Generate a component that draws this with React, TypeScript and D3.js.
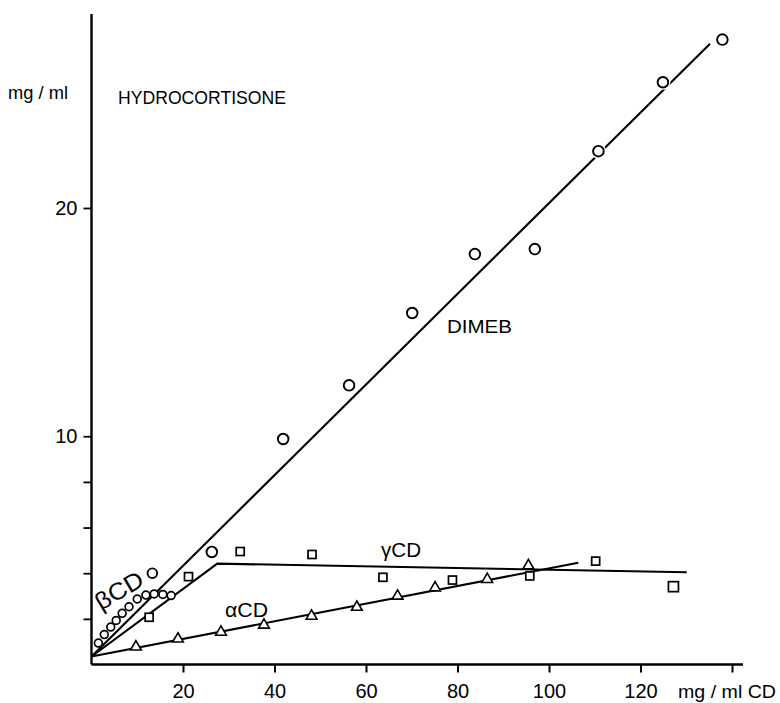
import React, { useEffect, useRef } from 'react'
import * as d3 from 'd3'

const W = 780
const H = 703

// DIMEB - open circles (mg/ml CD, mg/ml hydrocortisone)
const dimebX = [13.3, 26.3, 41.9, 56.3, 70.1, 83.8, 96.9, 110.8, 124.9, 137.9]
const dimebY = [4.0, 4.93, 9.88, 12.23, 15.4, 17.98, 18.2, 22.49, 25.51, 27.38]
// betaCD - small circles
const betaX = [1.5, 2.8, 4.2, 5.4, 6.7, 8.2, 10.0, 11.9, 13.7, 15.6, 17.4]
const betaY = [0.94, 1.31, 1.64, 1.93, 2.24, 2.53, 2.87, 3.04, 3.09, 3.07, 3.02]
// gammaCD - squares
const gammaX = [12.6, 21.2, 32.5, 48.2, 63.7, 78.9, 95.8, 110.2, 127.2]
const gammaY = [2.07, 3.85, 4.95, 4.82, 3.82, 3.7, 3.88, 4.53, 3.41]
// alphaCD - triangles
const alphaX = [9.7, 18.9, 28.3, 37.7, 48.1, 58.0, 66.9, 75.1, 86.5, 95.5]
const alphaY = [0.77, 1.12, 1.42, 1.73, 2.12, 2.51, 3.0, 3.36, 3.73, 4.33]

// drawn fit lines
const dimebFit: [number, number][] = [[0, 0.35], [135.2, 27.2]]
const gammaFit: [number, number][] = [[0, 0.35], [27.5, 4.42], [130.1, 4.04]]
const alphaFit: [number, number][] = [[0, 0.35], [106.4, 4.46]]

const xTicks = [20, 40, 60, 80, 100, 120, 140]
const xTickLabels = ['20', '40', '60', '80', '100', '120', '']
const yTicks = [2, 4, 6, 8, 10, 20]
const yTickLabels = ['', '', '', '', '10', '20']

const FONT = '"Liberation Sans", Arial, sans-serif'

export default function App() {
  const svgRef = useRef<SVGSVGElement>(null)

  useEffect(() => {
    const svg = d3.select(svgRef.current)
    svg.selectAll('*').remove()

    const x = d3.scaleLinear().domain([0, 140]).range([91.5, 732])
    const y = d3.scaleLinear().domain([0, 20]).range([664.5, 208])

    svg.append('rect').attr('width', W).attr('height', H).attr('fill', 'white')

    // axes
    const xAxis = d3.axisBottom(x)
      .tickValues(xTicks)
      .tickFormat((d, i) => xTickLabels[i])
      .tickSize(8)
      .tickSizeOuter(0)
      .tickPadding(11)
    const gx = svg.append('g').attr('transform', `translate(0,${y(0)})`).call(xAxis)
    gx.select('.domain').remove()
    gx.selectAll('line').attr('stroke', '#000').attr('stroke-width', 2)
    gx.selectAll('text').attr('font-family', FONT).attr('font-size', 20).attr('fill', '#000')

    const yAxis = d3.axisLeft(y)
      .tickValues(yTicks)
      .tickFormat((d, i) => yTickLabels[i])
      .tickSize(8)
      .tickSizeOuter(0)
      .tickPadding(6)
    const gy = svg.append('g').attr('transform', `translate(${x(0)},0)`).call(yAxis)
    gy.select('.domain').remove()
    gy.selectAll('line').attr('stroke', '#000').attr('stroke-width', 1.8)
    gy.selectAll('text').attr('font-family', FONT).attr('font-size', 20).attr('fill', '#000')

    svg.append('line')
      .attr('x1', x(0)).attr('x2', x(142.4))
      .attr('y1', y(0)).attr('y2', y(0))
      .attr('stroke', '#000').attr('stroke-width', 2.4)
    svg.append('line')
      .attr('x1', x(0)).attr('x2', x(0))
      .attr('y1', y(0)).attr('y2', y(28.5))
      .attr('stroke', '#000').attr('stroke-width', 2.4)

    // fit lines
    const line = d3.line<[number, number]>().x(d => x(d[0])).y(d => y(d[1]))
    ;[dimebFit, gammaFit, alphaFit].forEach(f => {
      svg.append('path')
        .attr('d', line(f))
        .attr('fill', 'none')
        .attr('stroke', '#000')
        .attr('stroke-width', 2.1)
    })

    // DIMEB circles with a white gap around them
    const dimeb = dimebX.map((v, i) => [v, dimebY[i]])
    svg.selectAll('circle.gap')
      .data(dimeb)
      .enter()
      .append('circle')
      .attr('class', 'gap')
      .attr('cx', d => x(d[0]))
      .attr('cy', d => y(d[1]))
      .attr('r', 7.5)
      .attr('fill', 'white')
    svg.selectAll('circle.dimeb')
      .data(dimeb)
      .enter()
      .append('circle')
      .attr('class', 'dimeb')
      .attr('cx', d => x(d[0]))
      .attr('cy', d => y(d[1]))
      .attr('r', (d, i) => (i === 0 ? 4.8 : 5.3))
      .attr('fill', 'white')
      .attr('stroke', '#000')
      .attr('stroke-width', 1.9)

    // betaCD circles
    svg.selectAll('circle.beta')
      .data(betaX.map((v, i) => [v, betaY[i]]))
      .enter()
      .append('circle')
      .attr('class', 'beta')
      .attr('cx', d => x(d[0]))
      .attr('cy', d => y(d[1]))
      .attr('r', 3.9)
      .attr('fill', 'white')
      .attr('stroke', '#000')
      .attr('stroke-width', 1.7)

    // gammaCD squares
    svg.selectAll('rect.gamma')
      .data(gammaX.map((v, i) => [v, gammaY[i]]))
      .enter()
      .append('rect')
      .attr('class', 'gamma')
      .attr('x', (d, i) => x(d[0]) - (i === 8 ? 5 : 4))
      .attr('y', (d, i) => y(d[1]) - (i === 8 ? 5 : 4))
      .attr('width', (d, i) => (i === 8 ? 10 : 8))
      .attr('height', (d, i) => (i === 8 ? 10 : 8))
      .attr('fill', 'white')
      .attr('stroke', '#000')
      .attr('stroke-width', 1.7)

    // alphaCD triangles
    const tri = d3.symbol().type(d3.symbolTriangle).size(50)
    svg.selectAll('path.alpha')
      .data(alphaX.map((v, i) => [v, alphaY[i]]))
      .enter()
      .append('path')
      .attr('class', 'alpha')
      .attr('d', tri)
      .attr('transform', d => `translate(${x(d[0])},${y(d[1])})`)
      .attr('fill', 'white')
      .attr('stroke', '#000')
      .attr('stroke-width', 1.6)

    // labels
    const label = (txt: string, px: number, py: number, size: number, len?: number) => {
      const t = svg.append('text')
        .attr('x', px)
        .attr('y', py)
        .attr('font-family', FONT)
        .attr('font-size', size)
        .attr('fill', '#000')
        .text(txt)
      if (len) t.attr('textLength', len).attr('lengthAdjust', 'spacingAndGlyphs')
      return t
    }
    label('mg / ml', 8, 99, 19, 60)
    label('HYDROCORTISONE', 118, 104, 18, 168)
    label('DIMEB', 447, 333, 19, 65)
    label('γCD', 381, 557, 20, 40)
    label('αCD', 225, 617, 20, 43)
    label('mg / ml CD', 678, 698, 19, 98)
    label('βCD', 0, 0, 24, 52)
      .attr('transform', 'translate(101,611) rotate(-31)')
  }, [])

  return (
    <svg
      ref={svgRef}
      width={W}
      height={H}
      style={{ position: 'absolute', left: 0, top: 0, display: 'block' }}
    />
  )
}
